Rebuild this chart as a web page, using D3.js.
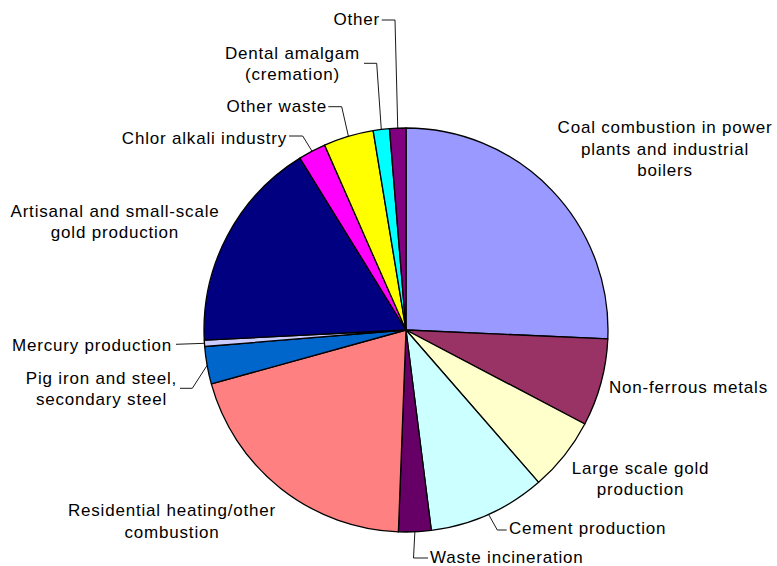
<!DOCTYPE html>
<html>
<head>
<meta charset="utf-8">
<script src="https://cdn.jsdelivr.net/npm/d3@7/dist/d3.min.js"></script>
<style>
  html, body { margin: 0; padding: 0; background: #fff; }
  svg { display: block; }
  text { font-family: "Liberation Sans", Arial, sans-serif; font-size: 17px; letter-spacing: 0.8px; fill: #000; }
</style>
</head>
<body>
<svg id="chart" width="777" height="566"></svg>
<script>
// Share of global anthropogenic mercury emissions to air, by sector (%)
const sectors = [
  "Coal combustion in power plants and industrial boilers",
  "Non-ferrous metals",
  "Large scale gold production",
  "Cement production",
  "Waste incineration",
  "Residential heating/other combustion",
  "Pig iron and steel, secondary steel",
  "Mercury production",
  "Artisanal and small-scale gold production",
  "Chlor alkali industry",
  "Other waste",
  "Dental amalgam (cremation)",
  "Other"
];
const shares = [25.7, 7.0, 5.9, 9.4, 2.6, 20.1, 3.0, 0.5, 17.0, 2.2, 4.0, 1.3, 1.3];

// Label text, broken into lines as displayed
const labelLines = [
  ["Coal combustion in power", "plants and industrial", "boilers"],
  ["Non-ferrous metals"],
  ["Large scale gold", "production"],
  ["Cement production"],
  ["Waste incineration"],
  ["Residential heating/other", "combustion"],
  ["Pig iron and steel,", "secondary steel"],
  ["Mercury production"],
  ["Artisanal and small-scale", "gold production"],
  ["Chlor alkali industry"],
  ["Other waste"],
  ["Dental amalgam", "(cremation)"],
  ["Other"]
];

const palette = ["#9999FF", "#993366", "#FFFFCC", "#CCFFFF", "#660066", "#FF8080",
                 "#0066CC", "#CCCCFF", "#000080", "#FF00FF", "#FFFF00", "#00FFFF", "#800080"];

// Label placement: anchor point, alignment and optional leader line bend/end
const labelLayout = [
  { x: 665,   y: 133,   anchor: "middle" },
  { x: 609,   y: 393,   anchor: "start" },
  { x: 640.5, y: 473.5, anchor: "middle" },
  { x: 509,   y: 534,   anchor: "start",  leader: [[497.3, 530], [506.7, 530]] },
  { x: 430,   y: 562.5, anchor: "start",  leader: [[413.5, 558], [428, 558]] },
  { x: 172,   y: 516,   anchor: "middle" },
  { x: 101.5, y: 383.5, anchor: "middle", leader: [[192.3, 388.3], [180, 388.3]] },
  { x: 172,   y: 350.5, anchor: "end",    leader: [[176, 344.3]] },
  { x: 115,   y: 216.5, anchor: "middle" },
  { x: 287,   y: 144,   anchor: "end",    leader: [[302.7, 136], [289, 136]] },
  { x: 327,   y: 111.5, anchor: "end",    leader: [[341.7, 106.7], [328.3, 106.7]] },
  { x: 292.5, y: 58.5,  anchor: "middle", leader: [[376.7, 63.3], [364, 63.3]] },
  { x: 380,   y: 25,    anchor: "end",    leader: [[395, 20], [381.7, 20]] }
];
const lineHeight = 21.5;

const cx = 406, cy = 330, radius = 202;
const svg = d3.select("#chart");
const g = svg.append("g").attr("transform", `translate(${cx},${cy})`);

const data = sectors.map((name, i) => ({ name, value: shares[i], i }));
const pie = d3.pie().value(d => d.value).sort(null).startAngle(0).endAngle(2 * Math.PI);
const arcs = pie(data);

const arc = d3.arc().innerRadius(0).outerRadius(radius);
const edgeArc = d3.arc().innerRadius(radius).outerRadius(radius);

g.selectAll("path.slice")
  .data(arcs)
  .join("path")
  .attr("class", "slice")
  .attr("d", arc)
  .attr("fill", d => palette[d.data.i])
  .attr("stroke", "#000")
  .attr("stroke-width", 1.3)
  .attr("stroke-linejoin", "round");

// Leader lines from the slice edge to the label
const leaders = svg.append("g").attr("fill", "none").attr("stroke", "#000").attr("stroke-width", 0.9);
arcs.forEach(a => {
  const lay = labelLayout[a.data.i];
  if (!lay.leader) return;
  const c = edgeArc.centroid(a);
  const pts = [[cx + c[0], cy + c[1]], ...lay.leader];
  leaders.append("path").attr("d", d3.line()(pts));
});

// Labels
const labels = svg.append("g");
arcs.forEach(a => {
  const lay = labelLayout[a.data.i];
  const t = labels.append("text").attr("text-anchor", lay.anchor);
  labelLines[a.data.i].forEach((ln, k) => {
    t.append("tspan").attr("x", lay.x).attr("y", lay.y + k * lineHeight).text(ln);
  });
});
</script>
</body>
</html>
